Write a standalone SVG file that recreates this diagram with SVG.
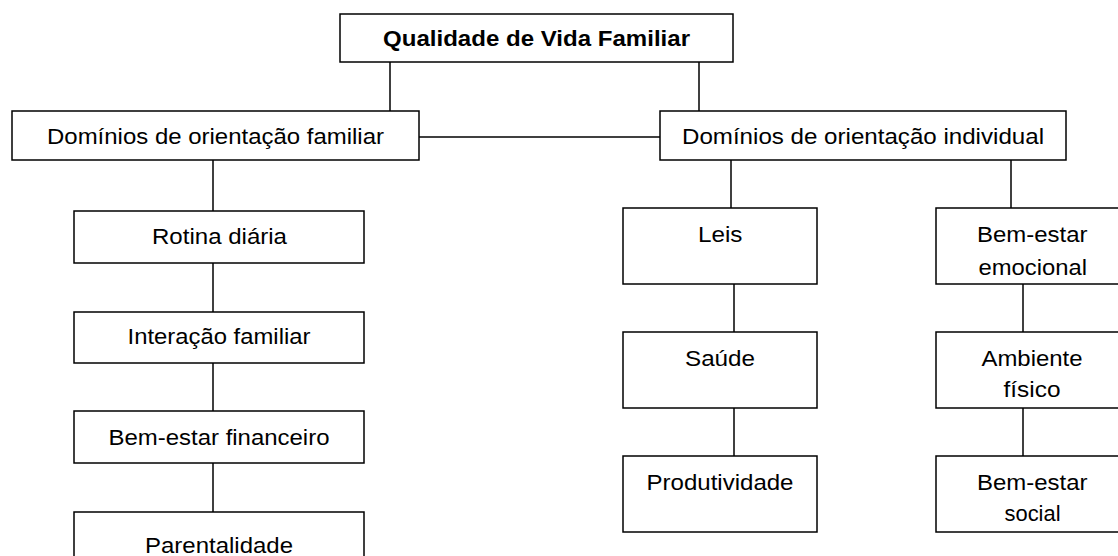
<svg xmlns="http://www.w3.org/2000/svg" width="1118" height="556" viewBox="0 0 1118 556">
<style>
.n{fill:#fff;stroke:#000;stroke-width:1.5}
line{stroke:#000;stroke-width:1.5}
text{font-family:"Liberation Sans",Arial,sans-serif;font-size:22px;fill:#000}
.b{font-weight:bold}
</style>
<rect width="1118" height="556" style="fill:#fff;stroke:none"/>
<g id="connectors">
<line x1="390" y1="62" x2="390" y2="111"/>
<line x1="699" y1="62" x2="699" y2="111"/>
<line x1="419" y1="137" x2="660" y2="137"/>
<line x1="213" y1="160" x2="213" y2="211"/>
<line x1="213" y1="263" x2="213" y2="312"/>
<line x1="213" y1="363" x2="213" y2="411"/>
<line x1="213" y1="463" x2="213" y2="512"/>
<line x1="731" y1="160" x2="731" y2="208"/>
<line x1="1011" y1="160" x2="1011" y2="208"/>
<line x1="734" y1="284" x2="734" y2="332"/>
<line x1="734" y1="408" x2="734" y2="456"/>
<line x1="1023" y1="284" x2="1023" y2="332"/>
<line x1="1023" y1="408" x2="1023" y2="456"/>
</g>
<g id="qvf"><rect class="n" x="340" y="14" width="393" height="48"/><text class="b" x="383" y="46" textLength="307" lengthAdjust="spacingAndGlyphs">Qualidade de Vida Familiar</text></g>
<g id="dof"><rect class="n" x="12" y="111" width="407" height="49"/><text x="47" y="144" textLength="337" lengthAdjust="spacingAndGlyphs">Domínios de orientação familiar</text></g>
<g id="doi"><rect class="n" x="660" y="111" width="406" height="49"/><text x="682" y="144" textLength="362" lengthAdjust="spacingAndGlyphs">Domínios de orientação individual</text></g>
<g id="rotina"><rect class="n" x="74" y="211" width="290" height="52"/><text x="152" y="244" textLength="135" lengthAdjust="spacingAndGlyphs">Rotina diária</text></g>
<g id="interacao"><rect class="n" x="74" y="312" width="290" height="51"/><text x="127.5" y="344" textLength="183" lengthAdjust="spacingAndGlyphs">Interação familiar</text></g>
<g id="financeiro"><rect class="n" x="74" y="411" width="290" height="52"/><text x="108.5" y="445" textLength="221" lengthAdjust="spacingAndGlyphs">Bem-estar financeiro</text></g>
<g id="parentalidade"><rect class="n" x="74" y="512" width="290" height="60"/><text x="145" y="553" textLength="148" lengthAdjust="spacingAndGlyphs">Parentalidade</text></g>
<g id="leis"><rect class="n" x="623" y="208" width="194" height="76"/><text x="698" y="242" textLength="44.5" lengthAdjust="spacingAndGlyphs">Leis</text></g>
<g id="saude"><rect class="n" x="623" y="332" width="194" height="76"/><text x="685" y="366" textLength="70" lengthAdjust="spacingAndGlyphs">Saúde</text></g>
<g id="produtividade"><rect class="n" x="623" y="456" width="194" height="76"/><text x="646.5" y="490" textLength="147" lengthAdjust="spacingAndGlyphs">Produtividade</text></g>
<g id="emocional"><rect class="n" x="936" y="208" width="194" height="76"/><text x="977" y="242" textLength="110.5" lengthAdjust="spacingAndGlyphs">Bem-estar</text><text x="978.5" y="275" textLength="108.5" lengthAdjust="spacingAndGlyphs">emocional</text></g>
<g id="ambiente"><rect class="n" x="936" y="332" width="194" height="76"/><text x="981.5" y="366" textLength="101" lengthAdjust="spacingAndGlyphs">Ambiente</text><text x="1003.5" y="397" textLength="57" lengthAdjust="spacingAndGlyphs">físico</text></g>
<g id="social"><rect class="n" x="936" y="456" width="194" height="76"/><text x="977" y="490" textLength="110.5" lengthAdjust="spacingAndGlyphs">Bem-estar</text><text x="1004.5" y="521" textLength="56" lengthAdjust="spacingAndGlyphs">social</text></g>
</svg>
